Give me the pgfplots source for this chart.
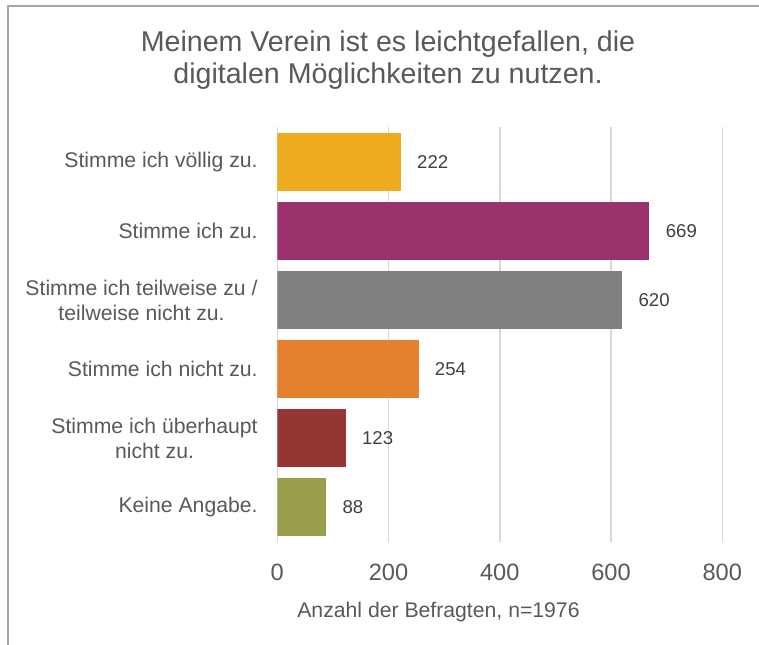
\documentclass[border=0pt]{standalone}
\usepackage{fontspec}
\setmainfont{Liberation Sans}
\usepackage{pgfplots}
\pgfplotsset{compat=1.18}
\definecolor{txt}{HTML}{595959}
\definecolor{vals}{HTML}{404040}
\definecolor{gridc}{HTML}{D9D9D9}
\definecolor{frame}{HTML}{A6A6A6}
\definecolor{c1}{HTML}{EEAB20}
\definecolor{c2}{HTML}{9B326E}
\definecolor{c3}{HTML}{808080}
\definecolor{c4}{HTML}{E5802F}
\definecolor{c5}{HTML}{963634}
\definecolor{c6}{HTML}{9B9F4B}

\begin{document}
\begin{tikzpicture}
\useasboundingbox (-138.65pt,-51pt) rectangle (240.85pt,271pt);
% outer frame, right and bottom edge fall outside the picture
\draw[frame, line width=1pt] (-134.65pt,-60pt) -- (-134.65pt,268pt) -- (250pt,268pt);

\node[anchor=base, font=\fontsize{14.3}{17}\selectfont, text=txt] at (55.35pt,245.15pt) {Meinem Verein ist es leichtgefallen, die};
\node[anchor=base, font=\fontsize{14.3}{17}\selectfont, text=txt] at (55.35pt,229.35pt) {digitalen Möglichkeiten zu nutzen.};

\begin{axis}[
    at={(0,0)}, anchor=south west,
    scale only axis, width=222.5pt, height=207.5pt,
    xbar, bar width=0.84, bar shift=0pt,
    xmin=0, xmax=800, xtick={0,200,400,600,800},
    ymin=-0.5, ymax=5.5,
    ytick={0,1,2,3,4,5},
    yticklabels={Keine Angabe., Stimme ich überhaupt\\nicht zu., Stimme ich nicht zu., Stimme ich teilweise zu /\\teilweise nicht zu., Stimme ich zu., Stimme ich völlig zu.},
    axis line style={draw=none},
    major tick length=0pt,
    xmajorgrids, grid style={gridc, line width=0.75pt},
    /pgf/number format/assume math mode=true,
    yticklabel style={font=\fontsize{10.6}{12.5}\selectfont, text=txt, align=center, anchor=east, inner sep=0pt, xshift=-9.65pt},
    xticklabel style={font=\fontsize{11.8}{14}\selectfont, text=txt, anchor=base, inner sep=0pt, yshift=-19.35pt},
    xlabel={Anzahl der Befragten, n=1976},
    xlabel style={at={(axis description cs:0.3622,0)}, anchor=base, inner sep=0pt, yshift=-37.5pt, font=\fontsize{10.6}{12.5}\selectfont, text=txt},
    nodes near coords,
    every node near coord/.append style={anchor=west, inner sep=0pt, xshift=8pt, font=\fontsize{9.3}{11}\selectfont, text=vals},
]
\addplot[fill=c1, draw=none] coordinates {(222,5)};
\addplot[fill=c2, draw=none] coordinates {(669,4)};
\addplot[fill=c3, draw=none] coordinates {(620,3)};
\addplot[fill=c4, draw=none] coordinates {(254,2)};
\addplot[fill=c5, draw=none] coordinates {(123,1)};
\addplot[fill=c6, draw=none] coordinates {(88,0)};
\end{axis}
\end{tikzpicture}
\end{document}
